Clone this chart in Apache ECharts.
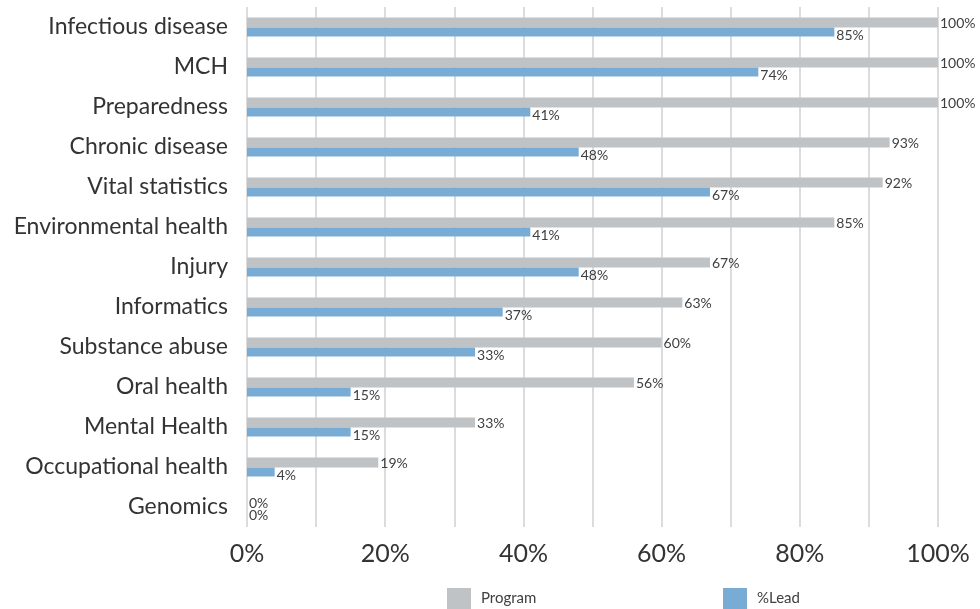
<!DOCTYPE html>
<html>
<head>
<meta charset="utf-8">
<script src="https://cdn.jsdelivr.net/npm/echarts@6/dist/echarts.min.js"></script>
<style>
  html, body { margin: 0; padding: 0; background: #fff; }
  #chart { width: 980px; height: 609px; }
</style>
</head>
<body>
<div id="chart"></div>
<script>
// Program areas, listed top to bottom
const categories = [
  'Infectious disease', 'MCH', 'Preparedness', 'Chronic disease',
  'Vital statistics', 'Environmental health', 'Injury', 'Informatics',
  'Substance abuse', 'Oral health', 'Mental Health', 'Occupational health',
  'Genomics'
];
// Share of agencies with a program in the area (%)
const programValues = [100, 100, 100, 93, 92, 85, 67, 63, 60, 56, 33, 19, 0];
// Share of agencies taking the lead in the area (%)
const leadValues = [85, 74, 41, 48, 67, 41, 48, 37, 33, 15, 15, 4, 0];
// Labelled positions on the value axis (%)
const tickLabels = [0, 20, 40, 60, 80, 100];

const FONT = 'Lato, "Open Sans", sans-serif';
const chart = echarts.init(document.getElementById('chart'));

const valueLabel = (offsetY) => ({
  show: true,
  position: 'right',
  distance: 2,
  offset: [0, offsetY],
  formatter: p => p.value + '%',
  color: '#404040',
  fontSize: 14,
  fontFamily: FONT
});

const legendText = { color: '#404040', fontSize: 15, fontFamily: FONT, padding: [5, 0, 0, 5] };

chart.setOption({
  animation: false,
  grid: { left: 247, right: 42, top: 7, bottom: 82, containLabel: false },
  xAxis: {
    type: 'value',
    min: 0,
    max: 100,
    interval: 10,
    axisLine: { show: false },
    axisTick: { show: false },
    splitLine: { show: true, lineStyle: { color: '#d0d0d0', width: 1.5 } },
    axisLabel: {
      margin: 14,
      color: '#333',
      fontSize: 25,
      fontFamily: FONT,
      formatter: v => (tickLabels.indexOf(v) >= 0 ? v + '%' : '')
    }
  },
  yAxis: {
    type: 'category',
    inverse: true,
    data: categories,
    axisLine: { show: false },
    axisTick: { show: false },
    splitLine: { show: false },
    axisLabel: {
      margin: 19,
      color: '#333',
      fontSize: 23,
      fontFamily: FONT,
      padding: [0, 0, 5, 0]
    }
  },
  legend: [
    {
      left: 447, top: 588, padding: 0,
      icon: 'rect', itemWidth: 24, itemHeight: 21, itemGap: 10,
      data: ['Program'],
      textStyle: legendText
    },
    {
      left: 723, top: 588, padding: 0,
      icon: 'rect', itemWidth: 24, itemHeight: 21, itemGap: 10,
      data: ['%Lead'],
      textStyle: legendText
    }
  ],
  series: [
    {
      name: 'Program',
      type: 'bar',
      data: programValues,
      barWidth: 10,
      barGap: '0%',
      itemStyle: { color: '#c0c3c6' },
      label: valueLabel(1)
    },
    {
      name: '%Lead',
      type: 'bar',
      data: leadValues,
      barWidth: 9,
      barGap: '0%',
      itemStyle: { color: '#79acd5' },
      label: valueLabel(3)
    }
  ]
});
</script>
</body>
</html>
